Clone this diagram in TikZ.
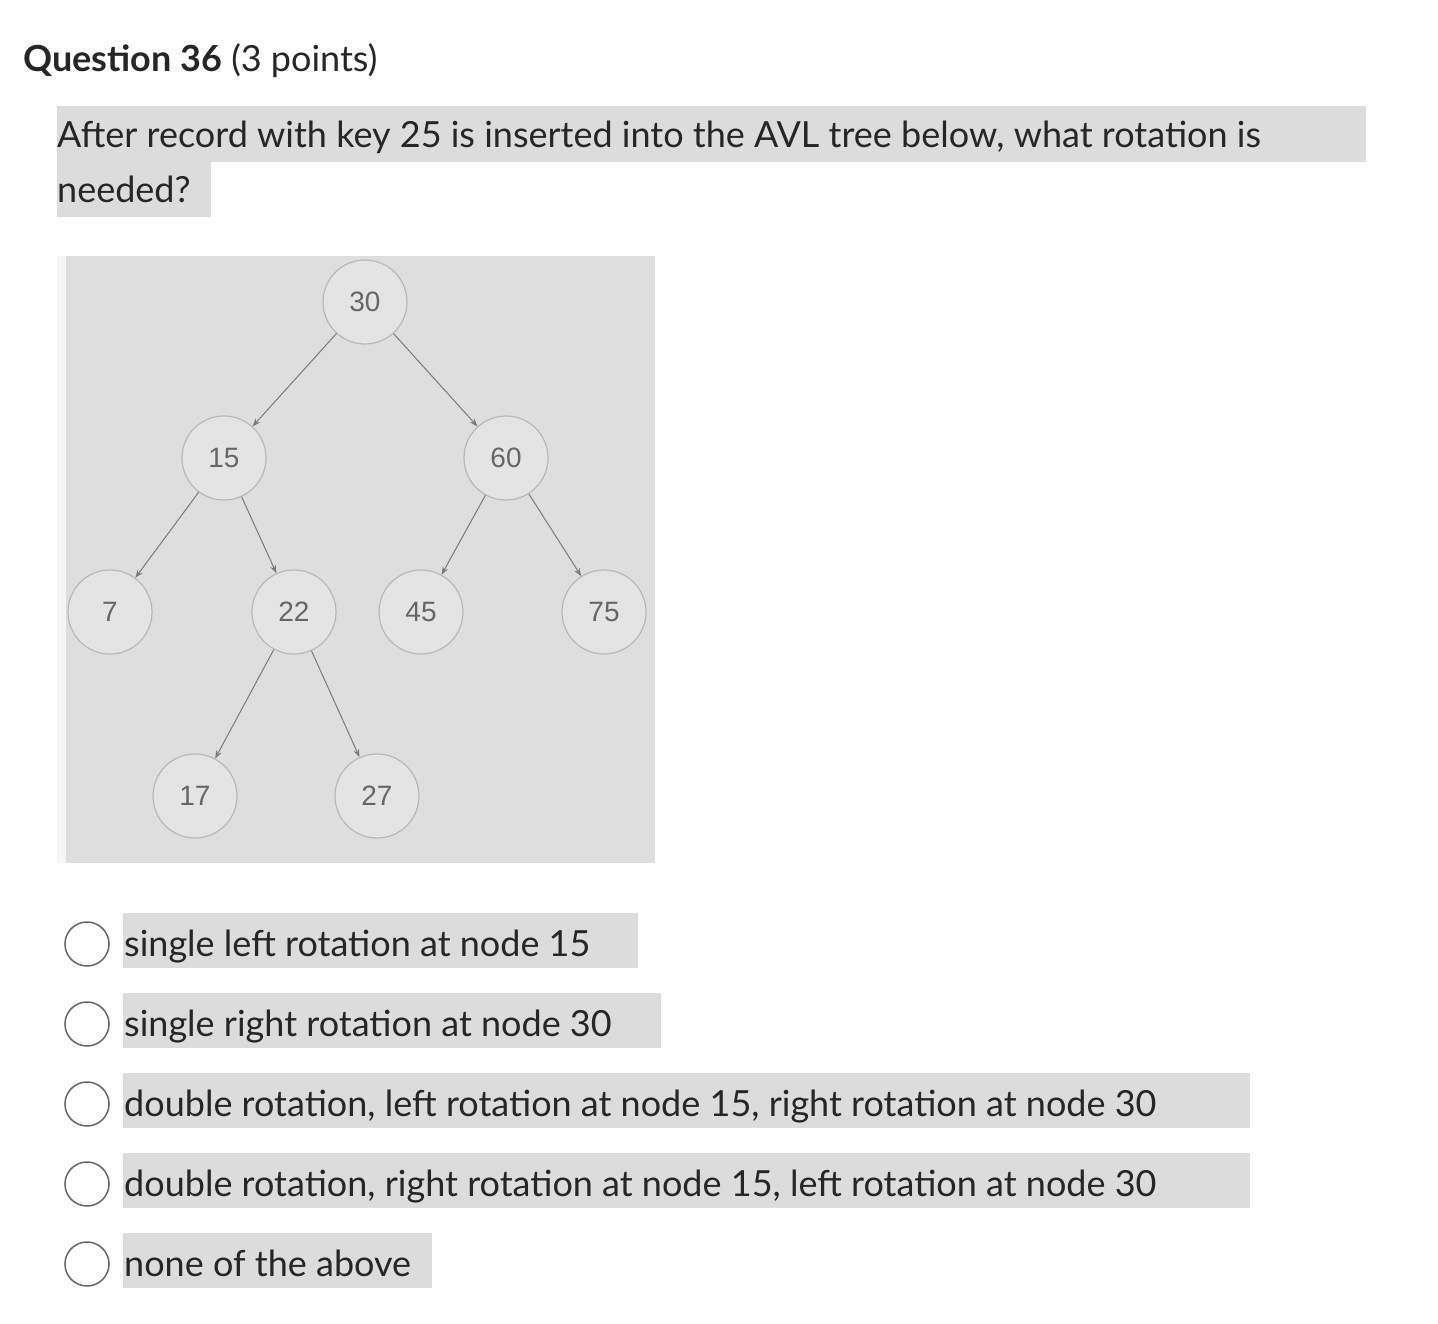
\documentclass[tikz,border=0pt]{standalone}
\usepackage{fontspec}
\setmainfont{Lato}
\newfontfamily\treefont{Liberation Sans}
\usetikzlibrary{arrows.meta}
\definecolor{hl}{HTML}{DCDCDC}
\definecolor{treebg}{HTML}{DEDEDE}
\definecolor{nodefill}{HTML}{E4E4E4}
\definecolor{nodeline}{HTML}{B8B8B8}
\definecolor{edgec}{HTML}{7A7A7A}
\definecolor{labc}{HTML}{666666}
\tikzset{
  tnode/.style={circle,minimum size=84pt,inner sep=0pt,fill=nodefill,draw=nodeline,line width=1.2pt,font=\treefont\fontsize{28}{30}\selectfont,text=labc},
  tedge/.style={draw=edgec,line width=1pt,-{Stealth[length=8pt,width=6pt]}},
  hlbox/.style={fill=hl,draw=none},
  txt/.style={anchor=base west,inner sep=0pt,font=\fontsize{36}{40}\selectfont,text=black!85},
  radio/.style={circle,draw=black!60,line width=1.5pt,minimum size=44pt,inner sep=0pt}
}
\begin{document}
\begin{tikzpicture}[x=1pt,y=-1pt]
\useasboundingbox (0,0) rectangle (1438,1324);
\fill[white] (0,0) rectangle (1438,1324);
\node[txt,font=\fontsize{36}{40}\selectfont] (title) at (23,72) {\textbf{Question 36} (3 points)};
\fill[hl] (57,106) rectangle (1366,162);
\fill[hl] (57,162) rectangle (211,217);
\node[txt] (q1) at (57,148) {After record with key 25 is inserted into the AVL tree below, what rotation is};
\node[txt] (q2) at (57,203) {needed?};
\fill[treebg] (57,256) rectangle (655,863);
\fill[black!4] (57,256) rectangle (66,863);
\node[tnode] (n30) at (365,302) {30};
\node[tnode] (n15) at (224,458) {15};
\node[tnode] (n60) at (506,458) {60};
\node[tnode] (n7) at (110,612) {7};
\node[tnode] (n22) at (294,612) {22};
\node[tnode] (n45) at (421,612) {45};
\node[tnode] (n75) at (604,612) {75};
\node[tnode] (n17) at (195,796) {17};
\node[tnode] (n27) at (377,796) {27};
\draw[tedge] (n30) -- (n15);
\draw[tedge] (n30) -- (n60);
\draw[tedge] (n15) -- (n7);
\draw[tedge] (n15) -- (n22);
\draw[tedge] (n60) -- (n45);
\draw[tedge] (n60) -- (n75);
\draw[tedge] (n22) -- (n17);
\draw[tedge] (n22) -- (n27);
\foreach \y/\w/\t [count=\i] in {944/638/single left rotation at node 15,1024/661/single right rotation at node 30,1104/1250/{double rotation, left rotation at node 15, right rotation at node 30},1184/1250/{double rotation, right rotation at node 15, left rotation at node 30},1264/432/none of the above}{
  \fill[hl] (123,\y-31) rectangle (\w,\y+24);
  \node[radio] (r\i) at (87,\y) {};
  \node[txt] (o\i) at (124,\y+12) {\t};
}
\end{tikzpicture}
\end{document}
